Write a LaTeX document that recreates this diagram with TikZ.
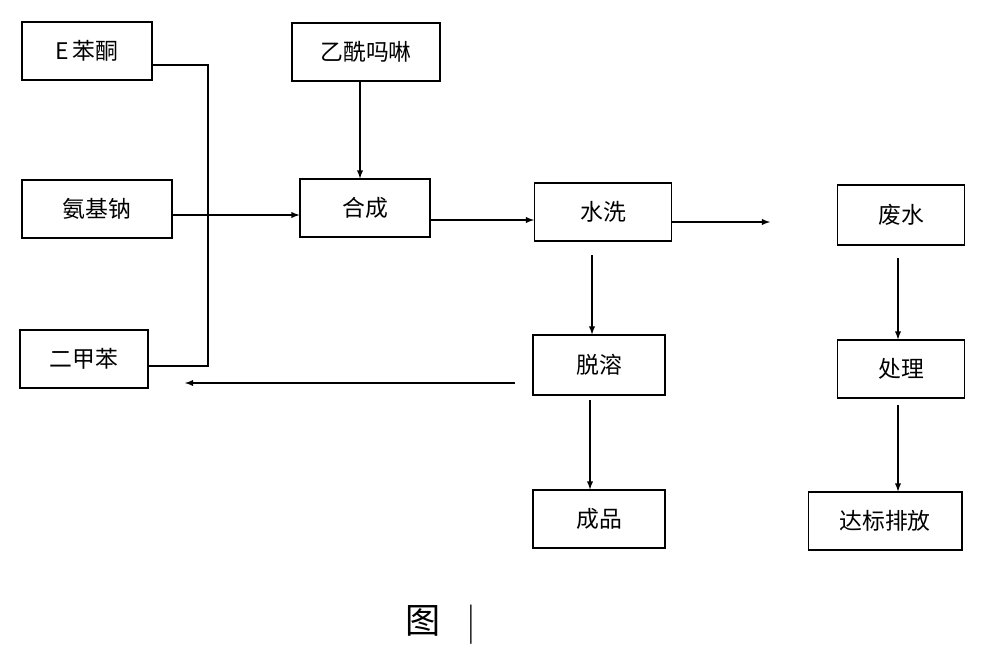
\documentclass[tikz,border=0pt]{standalone}
\usepackage{fontspec}
\setmainfont{Liberation Serif}
\newfontfamily\cjk{Noto Sans CJK SC}
\begin{document}
\begin{tikzpicture}[x=0.02cm,y=-0.02cm,>=latex,line width=0.6pt]
\tikzset{box/.style={draw,shape=rectangle,minimum height=1.16cm,font=\cjk\fontsize{13}{15}\selectfont,inner sep=0pt}}
\useasboundingbox (0,0) rectangle (1000,655);
\node[box,minimum width=2.6cm] (eben) at (87,51) {E\,苯酮};
\node[box,minimum width=2.96cm] (yixian) at (366,52) {乙酰吗啉};
\node[box,minimum width=3cm] (anji) at (97,209) {氨基钠};
\node[box,minimum width=2.6cm] (hecheng) at (365,208) {合成};
\node[box,minimum width=2.74cm] (shuixi) at (603,212) {水洗};
\node[box,minimum width=2.54cm,minimum height=1.2cm] (feishui) at (901,215) {废水};
\node[box,minimum width=2.56cm] (erjia) at (84,359) {二甲苯};
\node[box,minimum width=2.64cm,minimum height=1.2cm] (tuorong) at (599,365) {脱溶};
\node[box,minimum width=2.54cm] (chuli) at (901,369) {处理};
\node[box,minimum width=2.64cm] (chengpin) at (599,519) {成品};
\node[box,minimum width=3.08cm] (dabiao) at (885,521) {达标排放};
\node[font=\cjk\fontsize{20}{22}\selectfont] (tu) at (440,625) {图\hspace{0.8em}\raisebox{-0.5pt}{\scalebox{0.6}[1]{|}}};
% recycle line
\coordinate (c1) at (208,65);
\coordinate (c2) at (205,366);
\draw (eben.east |- c1) -- (c1) -- (c1 |- c2) -- (erjia.east |- c2);
\draw[->] (anji.east |- 0,215) -- (hecheng.west |- 0,215);
\draw[->] (yixian.south -| 360,0) -- (hecheng.north -| 360,0);
\draw[->] (hecheng.east |- 0,220) -- (shuixi.west |- 0,220);
\coordinate (w1) at (770,222);
\draw[->] (shuixi.east |- w1) -- (w1);
\coordinate (s1) at (592,255);
\draw[->] (s1) -- (tuorong.north -| s1);
\coordinate (t1) at (515,383);
\coordinate (t2) at (185,383);
\draw[->] (t1) -- (t2);
\coordinate (p1) at (590,400);
\draw[->] (p1) -- (chengpin.north -| p1);
\coordinate (f1) at (898,258);
\draw[->] (f1) -- (chuli.north -| f1);
\coordinate (f2) at (898,405);
\draw[->] (f2) -- (dabiao.north -| f2);
\end{tikzpicture}
\end{document}
